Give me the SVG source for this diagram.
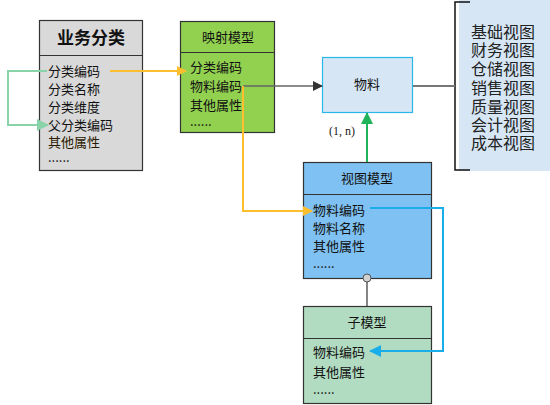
<svg xmlns="http://www.w3.org/2000/svg" width="550" height="405" viewBox="0 0 550 405">
<style>
text{font-family:"Noto Sans CJK SC","Liberation Sans",sans-serif;fill:#111}
.t{font-size:13px}
.h{font-size:13px;text-anchor:middle}
.box{stroke:#333;stroke-width:1.2}
.v{font-size:16px;text-anchor:middle;fill:#222}
</style>
<defs>
<marker id="ao" markerWidth="10" markerHeight="10" refX="9" refY="5" orient="auto" markerUnits="userSpaceOnUse"><path d="M0,0L10,5L0,10z" fill="#ffbe2e"/></marker>
<marker id="ag" markerWidth="12" markerHeight="12" refX="11" refY="6" orient="auto" markerUnits="userSpaceOnUse"><path d="M0,0L12,6L0,12z" fill="#88d4a8"/></marker>
<marker id="ad" markerWidth="10" markerHeight="10" refX="9" refY="5" orient="auto" markerUnits="userSpaceOnUse"><path d="M0,0L10,5L0,10z" fill="#333"/></marker>
<marker id="agg" markerWidth="12" markerHeight="12" refX="11" refY="6" orient="auto" markerUnits="userSpaceOnUse"><path d="M0,0L12,6L0,12z" fill="#1fb35a"/></marker>
<marker id="ab" markerWidth="12" markerHeight="12" refX="11" refY="6" orient="auto" markerUnits="userSpaceOnUse"><path d="M0,0L12,6L0,12z" fill="#19aeea"/></marker>
</defs>

<g id="views">
<rect x="459" y="0" width="91" height="171" fill="#d6e6f5"/>
<path d="M470,2H455V170H470" fill="none" stroke="#111" stroke-width="1.5"/>
<text class="v"><tspan x="503" y="38">基础视图</tspan><tspan x="503" y="56">财务视图</tspan><tspan x="503" y="75">仓储视图</tspan><tspan x="503" y="94">销售视图</tspan><tspan x="503" y="113">质量视图</tspan><tspan x="503" y="131">会计视图</tspan><tspan x="503" y="149">成本视图</tspan></text>
</g>

<g id="ywfl">
<rect class="box" x="39.5" y="20.5" width="103" height="150" fill="#d9d9d9"/>
<line x1="39.5" y1="55.5" x2="142.5" y2="55.5" stroke="#333" stroke-width="1.2"/>
<text x="91" y="44" style="font-size:17px;font-weight:bold;text-anchor:middle">业务分类</text>
<text class="t"><tspan x="48" y="76">分类编码</tspan><tspan x="48" y="94">分类名称</tspan><tspan x="48" y="112">分类维度</tspan><tspan x="48" y="130">父分类编码</tspan><tspan x="48" y="147" style="fill:#2a1a00">其他属性</tspan><tspan x="48" y="162">......</tspan></text>
</g>

<g id="yingshe">
<rect class="box" x="180.5" y="21.5" width="94" height="111" fill="#92d050"/>
<line x1="180.5" y1="52.5" x2="274.5" y2="52.5" stroke="#333" stroke-width="1.2"/>
<text class="h" x="228" y="42">映射模型</text>
<text class="t"><tspan x="190" y="72">分类编码</tspan><tspan x="190" y="91">物料编码</tspan><tspan x="190" y="110">其他属性</tspan><tspan x="190" y="126">......</tspan></text>
</g>

<g id="wuliao">
<rect x="322.5" y="57.5" width="90" height="55" fill="#d6e6f5" stroke="#29b6e8" stroke-width="1.2"/>
<text class="t" x="367" y="89" style="text-anchor:middle">物料</text>
</g>

<g id="shitu">
<rect class="box" x="303.5" y="162.5" width="128" height="116" fill="#7fc1f2"/>
<line x1="303.5" y1="194.5" x2="431.5" y2="194.5" stroke="#333" stroke-width="1.2"/>
<text class="h" x="367" y="183">视图模型</text>
<text class="t"><tspan x="313" y="215">物料编码</tspan><tspan x="313" y="233">物料名称</tspan><tspan x="313" y="251">其他属性</tspan><tspan x="313" y="268">......</tspan></text>
</g>

<g id="zimoxing">
<rect class="box" x="303.5" y="306.5" width="128" height="97" fill="#b2dcc1"/>
<line x1="303.5" y1="338.5" x2="431.5" y2="338.5" stroke="#333" stroke-width="1.2"/>
<text class="h" x="367" y="327">子模型</text>
<text class="t"><tspan x="313" y="357">物料编码</tspan><tspan x="313" y="377">其他属性</tspan><tspan x="313" y="394">......</tspan></text>
</g>

<g id="connectors" fill="none">
<path d="M47,71H8V125H48" stroke="#88d4a8" stroke-width="2" marker-end="url(#ag)"/>
<path d="M110,71H186" stroke="#ffbe2e" stroke-width="2" marker-end="url(#ao)"/>
<path d="M243,86H322" stroke="#666" stroke-width="1.5" marker-end="url(#ad)"/>
<path d="M243,86V211H312" stroke="#ffbe2e" stroke-width="2" marker-end="url(#ao)"/>
<path d="M367,162V113" stroke="#1fb35a" stroke-width="2" marker-end="url(#agg)"/>
<path d="M413,86H455" stroke="#777" stroke-width="2"/>
<path d="M370,208H443V351H370" stroke="#19aeea" stroke-width="2" marker-end="url(#ab)"/>
<circle cx="367" cy="278" r="4" fill="#d0d0d0" stroke="#555" stroke-width="1"/>
<path d="M367,282V306" stroke="#333" stroke-width="1.2"/>
<text x="329" y="135" style="font-family:'Liberation Serif',serif;font-size:12px;fill:#222">(1, n)</text>
</g>
</svg>
